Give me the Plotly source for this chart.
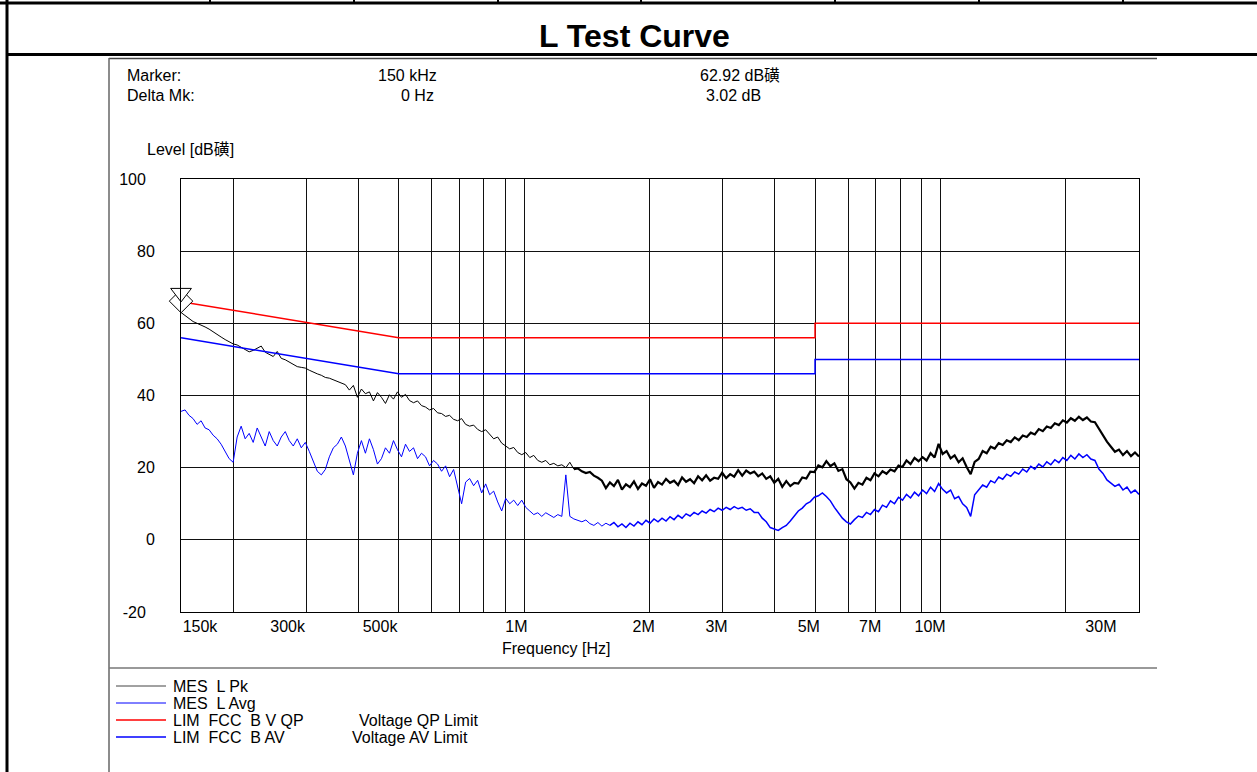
import numpy as np
import plotly.graph_objects as go

# ---------------- data ----------------
f_start_hz = 150e3
f_stop_hz = 30e6

# Peak measurement (dBµV), read at equal log-frequency steps from 150 kHz to 30 MHz
pk_level = [
    63.0, 62.2, 61.3, 60.5, 60.0, 59.6, 59.0, 58.4, 57.6, 56.9,
    56.2, 55.5, 54.8, 54.3, 54.0, 53.3, 52.6, 52.1, 52.5, 53.0,
    53.7, 52.0, 51.4, 50.8, 52.2, 50.3, 49.9, 49.3, 48.5, 48.0,
    47.8, 47.6, 47.0, 46.4, 46.0, 45.6, 45.0, 44.8, 44.3, 43.8,
    43.5, 43.0, 41.5, 42.8, 39.5, 41.8, 40.5, 41.0, 38.5, 40.8,
    39.5, 37.8, 40.2, 39.0, 41.0, 39.5, 40.3, 38.6, 38.0, 38.5,
    37.2, 36.8, 36.0, 36.4, 35.2, 35.0, 34.2, 34.5, 33.4, 33.0,
    33.6, 32.0, 31.5, 31.8, 30.6, 30.0, 30.5, 29.2, 28.0, 28.5,
    26.8, 26.0, 25.2, 25.6, 24.2, 23.6, 24.2, 22.8, 23.4, 22.0,
    21.5, 22.0, 20.8, 21.2, 20.5, 20.8, 20.0, 21.5, 19.6, 19.8,
    19.0, 18.5, 18.8, 17.8, 17.2,
    16.4, 14.3, 15.9, 14.9, 16.6, 13.9, 15.4, 14.6, 16.2, 14.1,
    15.6, 15.0, 16.8, 14.4, 16.0,
    15.3, 16.9, 15.8, 16.4, 15.2, 17.3, 16.1, 16.8, 15.7, 17.6,
    16.5, 17.9, 16.4, 17.2, 16.9, 18.6, 17.1, 18.2, 17.5, 19.3,
    17.8, 19.2, 18.4, 18.9, 17.6, 18.4, 16.9, 17.6, 15.8, 16.9,
    14.7, 16.3, 14.9, 15.8, 15.6, 17.3, 17.0, 18.9,
    18.8, 20.6, 20.1, 21.8, 20.4, 21.2, 19.1, 19.6, 16.8, 15.9,
    14.2, 15.8, 15.3, 17.2, 16.5,
    18.4, 17.6, 19.0, 18.3, 19.5, 19.0, 20.6, 20.2, 22.0, 21.0,
    22.7, 21.8, 22.9, 22.0, 24.0, 22.8, 26.6,
    23.8, 24.6, 22.6, 23.4, 21.5, 22.6, 20.2, 18.2, 21.6, 22.4,
    24.6, 24.0, 25.8, 25.3, 26.8,
    26.3, 27.6, 27.1, 28.4, 27.6, 28.9, 28.5, 29.7, 29.2, 30.7,
    30.1, 31.4, 31.0, 32.3, 31.8,
    33.1, 32.5, 33.7, 33.0, 34.1, 33.2, 33.9, 32.8, 32.6, 30.8,
    28.8, 27.2, 25.8, 24.4, 25.0, 23.5, 24.6, 23.2, 24.2, 23.1,
]

# Average measurement (dBµV), same sweep
avg_level = [
    35.6, 36.0, 34.5, 33.6, 32.0, 33.0, 31.0, 30.5, 29.0, 28.0,
    26.5, 24.5, 22.5, 21.5, 28.5, 31.5, 28.0, 29.5, 27.0, 31.0,
    28.5, 26.0, 30.0, 27.5, 26.0, 28.5, 30.0, 27.5, 26.0, 28.0,
    25.5, 27.0, 24.5, 22.0, 19.0, 18.0, 19.5, 23.0, 25.5, 26.5,
    28.5, 26.0, 22.0, 18.0, 24.0, 27.5, 24.0, 28.0, 25.0, 21.0,
    22.5, 25.5, 24.0, 27.5, 25.0, 23.0, 26.5, 24.5, 25.5, 22.5,
    24.0, 23.0, 20.5, 22.0, 21.0, 19.0, 20.5, 17.5, 19.5, 14.5,
    10.0, 16.0, 17.0, 15.0, 16.5, 13.0, 15.5, 12.5, 13.5, 10.5,
    8.0, 11.5, 10.0, 11.0, 9.5, 11.0, 9.0, 8.0, 7.0, 7.5,
    6.5, 7.5, 6.8, 6.2, 7.0, 6.5, 18.0, 6.5, 5.8, 5.5,
    5.0, 5.5, 4.5, 4.0, 4.8, 3.8, 4.6, 4.0, 4.8, 3.6,
    4.4, 3.4, 4.6, 3.8, 5.0, 4.2, 5.4, 4.6, 5.8, 5.0,
    6.0, 5.2, 6.4, 5.6, 6.8, 6.0, 7.2, 6.6, 7.6, 7.0,
    8.0, 7.4, 8.4, 7.8, 8.8, 8.2, 9.0, 8.4, 9.2, 8.6,
    9.0, 8.2, 8.6, 7.6, 7.6, 6.0, 5.0, 3.4, 3.0, 2.6,
    3.4, 4.0, 5.2, 6.6, 8.0, 8.8, 10.0, 10.6, 11.8, 12.2,
    13.0, 12.0, 10.8, 9.0, 7.6, 6.0, 5.0, 4.4, 5.6, 6.6,
    6.2, 7.6, 7.0, 8.4, 7.8, 9.6, 9.0, 10.8, 10.0, 11.8,
    11.0, 12.6, 11.6, 13.2, 12.2, 13.8, 12.8, 14.6, 13.4, 15.6,
    14.0, 13.0, 13.8, 11.4, 12.0, 10.0, 9.0, 6.5, 12.5, 14.0,
    15.2, 14.6, 16.4, 15.8, 17.4, 16.8, 18.2, 17.6, 18.8, 18.2,
    19.6, 18.8, 20.4, 19.6, 21.0, 20.2, 21.6, 20.8, 22.2, 21.4,
    22.8, 22.0, 23.4, 22.4, 23.8, 22.8, 23.6, 22.4, 22.0, 19.6,
    18.4, 16.6, 15.8, 14.8, 15.4, 13.8, 14.6, 13.0, 13.8, 12.6,
]

pk_freq = np.geomspace(f_start_hz, f_stop_hz, len(pk_level))
avg_freq = np.geomspace(f_start_hz, f_stop_hz, len(avg_level))

# FCC class B limits
qp_freq = [150e3, 500e3, 5e6, 5e6, 30e6]
qp_level = [66, 56, 56, 60, 60]
av_freq = [150e3, 500e3, 5e6, 5e6, 30e6]
av_level = [56, 46, 46, 50, 50]

# Marker
marker_freq = [150e3]
marker_level = [62.92]
delta_level = [3.02]

# Axis ticks
x_tick_pos = [166.6e3, 270.5e3, 450.9e3, 959e3, 1.937e6, 2.90e6, 4.83e6, 6.78e6, 9.45e6, 24.3e6]
x_tick_text = ["150k", "300k", "500k", "1M", "2M", "3M", "5M", "7M", "10M", "30M"]
x_grid = [2e5, 3e5, 4e5, 5e5, 6e5, 7e5, 8e5, 9e5, 1e6,
          2e6, 3e6, 4e6, 5e6, 6e6, 7e6, 8e6, 9e6, 1e7, 2e7]
y_ticks = [-20, 0, 20, 40, 60, 80, 100]
y_tick_text = ["-20\u00a0\u00a0", "0", "20", "40", "60", "80", "100\u00a0\u00a0"]

legend_names = ["MES\u00a0\u00a0L Pk", "MES\u00a0\u00a0L Avg",
                "LIM\u00a0\u00a0FCC\u00a0\u00a0B V QP", "LIM\u00a0\u00a0FCC\u00a0\u00a0B AV"]
legend_desc = ["", "", "Voltage QP Limit", "Voltage AV Limit"]

# ---------------- layout geometry ----------------
W_PX, H_PX = 1257, 772
L, R, T, B = 181, 1139, 179, 612
PW, PH = R - L, B - T
FONT = "Arial, Liberation Sans, Noto Sans CJK SC, sans-serif"


def px(x):
    return (x - L) / PW


def py(y):
    return (B - y) / PH


fig = go.Figure()

# the dense high-frequency part of the sweep is rendered a little heavier
k_pk = int(np.searchsorted(pk_freq, 1.3e6))
k_av = int(np.searchsorted(avg_freq, 1.6e6))

fig.add_trace(go.Scatter(x=pk_freq[:k_pk + 1], y=pk_level[:k_pk + 1], mode="lines",
                         line=dict(color="#000000", width=1), name="MES L Pk"))
fig.add_trace(go.Scatter(x=pk_freq[k_pk:], y=pk_level[k_pk:], mode="lines",
                         line=dict(color="#000000", width=2.2), name="MES L Pk"))
fig.add_trace(go.Scatter(x=avg_freq[:k_av + 1], y=avg_level[:k_av + 1], mode="lines",
                         line=dict(color="#0000ff", width=1), name="MES L Avg"))
fig.add_trace(go.Scatter(x=avg_freq[k_av:], y=avg_level[k_av:], mode="lines",
                         line=dict(color="#0000ff", width=1.5), name="MES L Avg"))
fig.add_trace(go.Scatter(x=qp_freq, y=qp_level, mode="lines",
                         line=dict(color="#ff0000", width=1.5), name="LIM FCC B V QP"))
fig.add_trace(go.Scatter(x=av_freq, y=av_level, mode="lines",
                         line=dict(color="#0000ff", width=1.5), name="LIM FCC B AV"))

# markers: diamond (marker) and triangle (delta marker on limit)
fig.add_trace(go.Scatter(x=marker_freq, y=marker_level, mode="markers", cliponaxis=False,
                         marker=dict(symbol="diamond", size=18, color="white", angle=180,
                                     standoff=11.7, line=dict(color="black", width=1))))
fig.add_trace(go.Scatter(x=marker_freq, y=[m + d for m, d in zip(marker_level, delta_level)],
                         mode="markers", cliponaxis=False,
                         marker=dict(symbol="triangle-up", size=18, color="white", angle=180,
                                     standoff=9, line=dict(color="black", width=1))))

shapes = []


def hline(y, x0, x1, w, c="black"):
    shapes.append(dict(type="line", xref="paper", yref="paper", x0=px(x0), x1=px(x1),
                       y0=py(y), y1=py(y), line=dict(color=c, width=w)))


def vline(x, y0, y1, w, c="black"):
    shapes.append(dict(type="line", xref="paper", yref="paper", x0=px(x), x1=px(x),
                       y0=py(y0), y1=py(y1), line=dict(color=c, width=w)))


# page frame
hline(3, 0, W_PX, 3)
vline(7, 0, H_PX, 3)
for sx in [210, 354, 498, 641, 835, 979, 1123]:
    vline(sx, 0, 3, 2)
hline(54.5, 7, W_PX, 3)
hline(58.5, 109, 1157, 1.5, "#444444")
vline(109, 58, H_PX, 1.5, "#666666")
hline(668, 109, 1157, 1.5, "#777777")

# legend samples
leg_colors = ["#444444", "#0000ff", "#ff0000", "#0000ff"]
leg_widths = [1, 1, 1.5, 1.5]
leg_y = [686, 703, 720, 737]
for c, w, y in zip(leg_colors, leg_widths, leg_y):
    hline(y, 116, 166, w, c)

ann = []


def text(s, x, y, anchor="left", size=16, bold=False):
    ann.append(dict(text=("<b>%s</b>" % s) if bold else s, xref="paper", yref="paper",
                    x=px(x), y=py(y), xanchor=anchor, yanchor="middle", showarrow=False,
                    font=dict(family=FONT, size=size, color="black")))


text("L Test Curve", 634, 36, "center", 32, True)
text("Marker:", 125, 75)
text("Delta Mk:", 125, 95)
text("150 kHz", 439, 75, "right")
text("0 Hz", 436, 95, "right")
text("62.92 dB磺", 698, 75)
text("3.02 dB", 704, 95)
text("Level [dB磺]", 145, 149)
text("Frequency [Hz]", 556, 648, "center")
for name, y in zip(legend_names, leg_y):
    text(name, 171, y)
text(legend_desc[2], 357, leg_y[2])
text(legend_desc[3], 350, leg_y[3])

fig.update_layout(
    width=W_PX, height=H_PX,
    margin=dict(l=L, r=W_PX - R, t=T, b=H_PX - B, pad=0),
    paper_bgcolor="white", plot_bgcolor="white",
    showlegend=False,
    shapes=shapes, annotations=ann,
    font=dict(family=FONT, size=16, color="black"),
    xaxis=dict(type="log", range=[np.log10(f_start_hz) - 1e-4, np.log10(f_stop_hz)],
               tickmode="array", tickvals=x_tick_pos, ticktext=x_tick_text,
               showgrid=False, ticks="", ticklabelstandoff=0,
               showline=True, linecolor="black", linewidth=1, mirror=True,
               tickfont=dict(family=FONT, size=16, color="black"),
               minor=dict(tickmode="array", tickvals=x_grid, showgrid=True,
                          gridcolor="#111111", gridwidth=1, ticks="")),
    yaxis=dict(range=[-20, 100], tickmode="array", tickvals=y_ticks, ticktext=y_tick_text,
               showgrid=True, gridcolor="#111111", gridwidth=1, zeroline=False,
               ticks="", ticklabelstandoff=22,
               showline=True, linecolor="black", linewidth=1, mirror=True,
               tickfont=dict(family=FONT, size=16, color="black")),
)

fig.write_html("out.html", config={"displayModeBar": False},
               post_script="document.body.style.margin='0px';")
